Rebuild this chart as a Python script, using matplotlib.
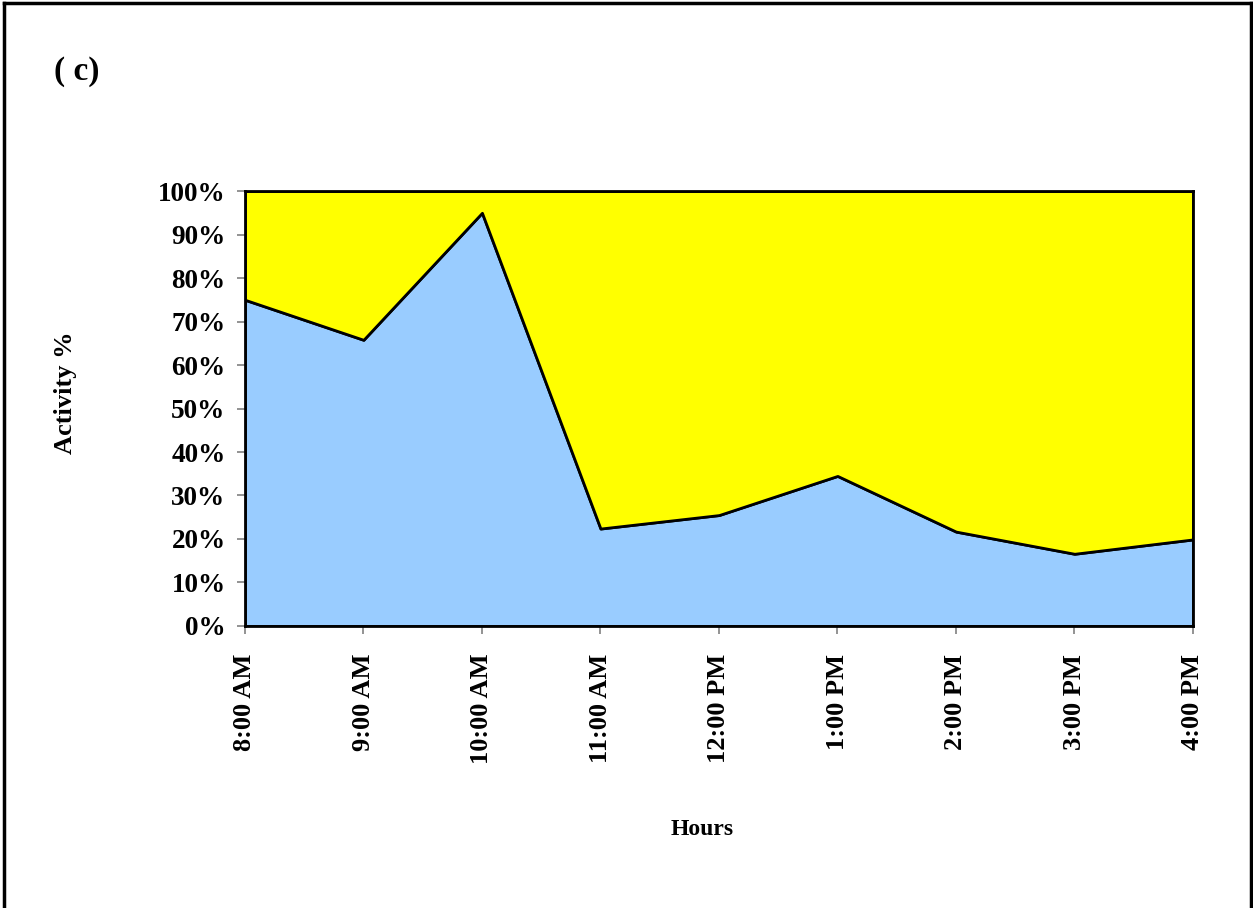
import matplotlib
matplotlib.use("Agg")
import matplotlib.pyplot as plt
from matplotlib.lines import Line2D
from matplotlib.ticker import PercentFormatter

hours = ["8:00 AM", "9:00 AM", "10:00 AM", "11:00 AM", "12:00 PM",
         "1:00 PM", "2:00 PM", "3:00 PM", "4:00 PM"]
active = [75.0, 65.8, 95.0, 22.4, 25.5, 34.5, 21.7, 16.6, 19.9]
rest = [100 - v for v in active]

plt.rcParams["font.family"] = ["Liberation Serif", "DejaVu Serif"]
plt.rcParams["font.weight"] = "bold"

fig = plt.figure(figsize=(12.53, 9.08), dpi=100)
ax = fig.add_axes([0.1955, 0.3106, 0.7566, 0.479])

x = list(range(len(hours)))
ax.stackplot(x, active, rest, colors=["#99ccff", "#ffff00"],
             edgecolor="black", linewidth=2)

ax.set_xlim(0, len(hours) - 1)
ax.set_ylim(0, 100)
ax.set_yticks(range(0, 101, 10))
ax.yaxis.set_major_formatter(PercentFormatter(decimals=0))
ax.set_xticks(x)
ax.set_xticklabels(hours, rotation=90, fontsize=19, fontweight="bold")
for lbl in ax.get_yticklabels():
    lbl.set_fontsize(19.5)
    lbl.set_fontweight("bold")
ax.tick_params(axis="y", direction="out", length=6, width=1.2,
               color="#808080", pad=8)
ax.tick_params(axis="x", direction="out", length=6, width=1.2,
               color="#808080", pad=14)

for side in ["left", "bottom", "right", "top"]:
    ax.spines[side].set_linewidth(2)
    ax.spines[side].set_color("black")

fig.text(0.052, 0.568, "Activity %", rotation=90, fontsize=19,
         fontweight="bold", ha="center", va="center")
fig.text(0.5605, 0.086, "Hours", fontsize=17, fontweight="bold",
         ha="center", va="center")
fig.text(0.043, 0.921, "( c)", fontsize=24, fontweight="bold",
         ha="left", va="center")

# frame around the figure (no bottom edge in the original)
fig.add_artist(Line2D([0.0035, 0.0035], [0.0, 0.9965], transform=fig.transFigure,
                      color="black", lw=2.5))
fig.add_artist(Line2D([0.0035, 0.9985], [0.9965, 0.9965], transform=fig.transFigure,
                      color="black", lw=2.5))
fig.add_artist(Line2D([0.9985, 0.9985], [0.0, 0.9965], transform=fig.transFigure,
                      color="black", lw=2.5))

fig.savefig("out.png", dpi=100)
